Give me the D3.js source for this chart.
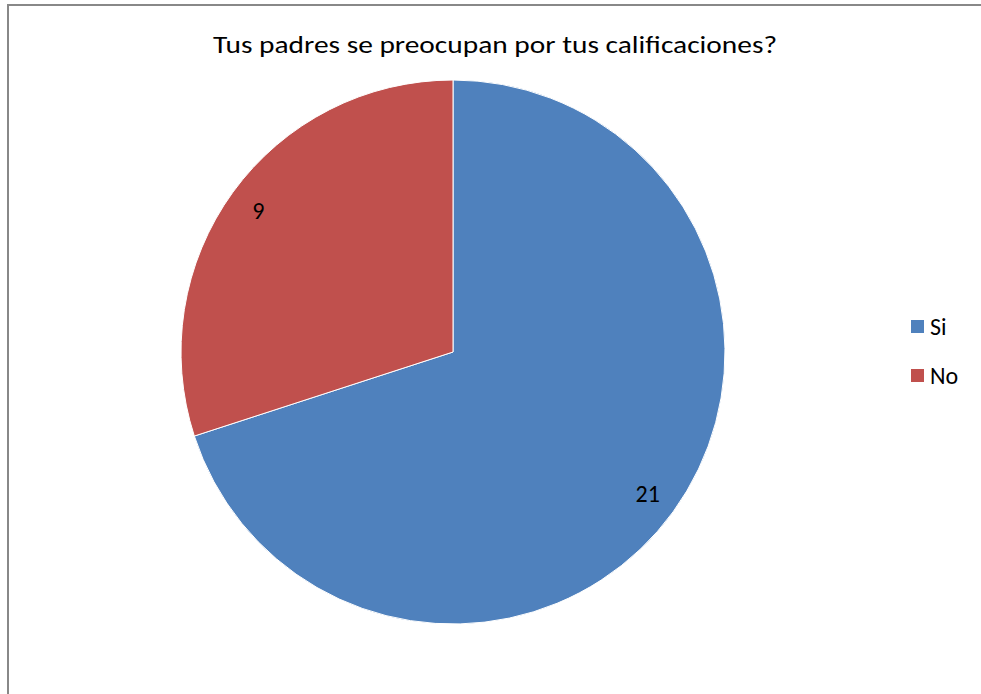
<!DOCTYPE html>
<html><head><meta charset="utf-8">
<script src="https://cdn.jsdelivr.net/npm/d3@7"></script>
<style>body{margin:0;background:#fff}svg{display:block}</style>
</head><body>
<svg id="c" width="981" height="694"></svg>
<script>
const categories = ["Si", "No"];
const values = [21, 9];
const colors = ["#4F81BD", "#C0504D"];
const title = "Tus padres se preocupan por tus calificaciones?";

const svg = d3.select("#c");
const font = "Carlito, 'Open Sans', 'Liberation Sans', sans-serif";

svg.append("rect").attr("x", 8).attr("y", 5).attr("width", 990).attr("height", 700)
  .attr("fill", "#fff").attr("stroke", "#888").attr("stroke-width", 2);

svg.append("text").attr("x", 495).attr("y", 53).attr("text-anchor", "middle")
  .attr("font-family", font).attr("font-size", 25).attr("fill", "#000")
  .attr("textLength", 564).attr("lengthAdjust", "spacingAndGlyphs")
  .text(title);

const cx = 453, cy = 352, r = 272;
const data = categories.map((c, i) => ({cat: c, val: values[i], color: colors[i]}));
const pie = d3.pie().value(d => d.val).sort(null);
const arc = d3.arc().innerRadius(0).outerRadius(r);
const labelArc = d3.arc().innerRadius(r * 0.885).outerRadius(r * 0.885);
const arcs = pie(data);
const g = svg.append("g").attr("transform", `translate(${cx},${cy})`);
g.selectAll("path").data(arcs).enter().append("path")
  .attr("d", arc).attr("fill", d => d.data.color)
  .attr("stroke", "#fff").attr("stroke-width", 1);
g.selectAll("text").data(arcs).enter().append("text")
  .attr("transform", d => `translate(${labelArc.centroid(d)})`)
  .attr("text-anchor", "middle").attr("dy", "0.35em")
  .attr("font-family", font).attr("font-size", 24).attr("fill", "#000")
  .text(d => d.data.val);

const leg = svg.append("g");
data.forEach((d, i) => {
  const y = 327 + i * 49;
  leg.append("rect").attr("x", 911).attr("y", y - 7).attr("width", 13).attr("height", 13).attr("fill", d.color);
  leg.append("text").attr("x", 930).attr("y", y).attr("dy", "0.35em")
    .attr("font-family", font).attr("font-size", 24).attr("fill", "#000").text(d.cat);
});
</script>
</body></html>
